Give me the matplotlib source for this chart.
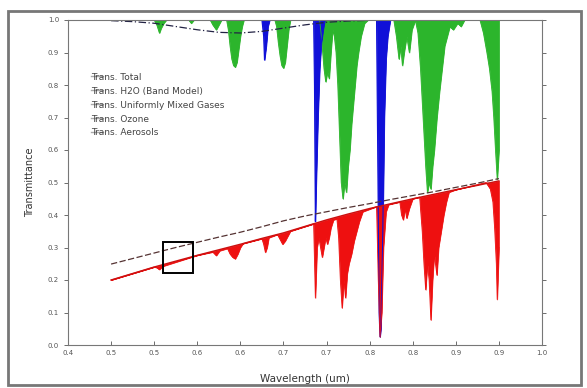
import numpy as np
import matplotlib
matplotlib.use('Agg')
import matplotlib.pyplot as plt
from matplotlib.lines import Line2D
from matplotlib.patches import Rectangle

# smooth curves (coarse wavelength grid, um)
wl_smooth = [0.45, 0.475, 0.50, 0.525, 0.55, 0.575, 0.60, 0.625, 0.65, 0.675,
             0.70, 0.725, 0.75, 0.775, 0.80, 0.825, 0.85, 0.875, 0.90]
ozone = [0.998, 0.995, 0.99, 0.98, 0.97, 0.962, 0.96, 0.965, 0.975, 0.985,
         0.993, 0.997, 0.999, 1.0, 1.0, 1.0, 1.0, 1.0, 1.0]
aerosol = [0.249, 0.266, 0.283, 0.300, 0.316, 0.332, 0.347, 0.364, 0.382, 0.397,
           0.410, 0.423, 0.435, 0.448, 0.460, 0.472, 0.485, 0.498, 0.512]
total_clear = [0.200, 0.220, 0.240, 0.258, 0.276, 0.293, 0.310, 0.328, 0.345, 0.365,
               0.385, 0.403, 0.420, 0.435, 0.450, 0.464, 0.478, 0.491, 0.505]

# H2O band model
wl_h2o = [0.45, 0.500, 0.503, 0.506, 0.508, 0.511, 0.514, 0.540, 0.543, 0.546,
          0.565, 0.568, 0.572, 0.575, 0.578, 0.584, 0.586, 0.588, 0.590, 0.592,
          0.594, 0.596, 0.598, 0.600, 0.602, 0.604, 0.640, 0.642, 0.644, 0.646,
          0.648, 0.650, 0.652, 0.654, 0.656, 0.658, 0.692, 0.694, 0.697, 0.699,
          0.701, 0.703, 0.705, 0.707, 0.709, 0.711, 0.713, 0.715, 0.717, 0.719,
          0.721, 0.723, 0.725, 0.727, 0.729, 0.731, 0.733, 0.735, 0.737, 0.740,
          0.744, 0.748, 0.778, 0.781, 0.784, 0.786, 0.788, 0.790, 0.793, 0.796,
          0.799, 0.803, 0.806, 0.809, 0.812, 0.815, 0.817, 0.819, 0.821, 0.823,
          0.825, 0.828, 0.831, 0.834, 0.837, 0.840, 0.843, 0.847, 0.852, 0.856,
          0.860, 0.878, 0.882, 0.886, 0.889, 0.892, 0.894, 0.896, 0.898, 0.900]
h2o = [1.0, 1.0, 0.985, 0.96, 0.975, 0.99, 1.0, 1.0, 0.99, 1.0,
       1.0, 0.985, 0.97, 0.985, 1.0, 1.0, 0.97, 0.92, 0.88, 0.86,
       0.855, 0.87, 0.91, 0.95, 0.98, 1.0, 1.0, 0.98, 0.93, 0.89,
       0.86, 0.852, 0.87, 0.92, 0.97, 1.0, 1.0, 0.95, 0.85, 0.81,
       0.84, 0.82, 0.90, 0.97, 0.95, 0.90, 0.80, 0.65, 0.50, 0.45,
       0.50, 0.47, 0.55, 0.60, 0.68, 0.74, 0.80, 0.86, 0.90, 0.95,
       0.99, 1.0, 1.0, 0.95, 0.88, 0.92, 0.86, 0.90, 0.95, 0.90,
       0.97, 1.0, 0.96, 0.85, 0.70, 0.55, 0.47, 0.50, 0.48, 0.55,
       0.60, 0.70, 0.78, 0.85, 0.92, 0.95, 0.98, 0.97, 0.99, 0.98,
       1.0, 1.0, 0.96, 0.90, 0.85, 0.78, 0.70, 0.60, 0.51, 0.60]

# uniformly mixed gases (O2 bands)
wl_mixed = [0.45, 0.625, 0.627, 0.628, 0.630, 0.632, 0.634, 0.685, 0.686, 0.687,
            0.688, 0.690, 0.692, 0.694, 0.696, 0.698, 0.758, 0.759, 0.761, 0.762,
            0.763, 0.765, 0.767, 0.769, 0.771, 0.774, 0.900]
mixed = [1.0, 1.0, 0.95, 0.877, 0.92, 0.98, 1.0, 1.0, 0.80, 0.38,
         0.50, 0.70, 0.85, 0.93, 0.97, 1.0, 1.0, 0.70, 0.10, 0.025,
         0.05, 0.30, 0.70, 0.88, 0.95, 1.0, 1.0]

# total transmittance
wl_total = [0.45, 0.50, 0.503, 0.506, 0.509, 0.512, 0.55, 0.568, 0.572, 0.576,
            0.585, 0.588, 0.591, 0.594, 0.597, 0.600, 0.603, 0.625, 0.627, 0.629,
            0.631, 0.633, 0.643, 0.646, 0.649, 0.652, 0.655, 0.658, 0.685, 0.687,
            0.689, 0.691, 0.693, 0.695, 0.697, 0.699, 0.701, 0.703, 0.705, 0.708,
            0.712, 0.714, 0.716, 0.718, 0.720, 0.722, 0.724, 0.726, 0.729, 0.732,
            0.735, 0.738, 0.742, 0.758, 0.760, 0.762, 0.764, 0.766, 0.769, 0.772,
            0.785, 0.787, 0.789, 0.791, 0.793, 0.796, 0.800, 0.808, 0.811, 0.813,
            0.815, 0.817, 0.819, 0.821, 0.823, 0.825, 0.828, 0.830, 0.833, 0.836,
            0.839, 0.842, 0.850, 0.885, 0.890, 0.893, 0.895, 0.897, 0.898, 0.899,
            0.900]
total = [0.200, 0.240, 0.238, 0.232, 0.240, 0.244, 0.276, 0.286, 0.275, 0.290,
         0.297, 0.280, 0.270, 0.265, 0.280, 0.300, 0.312, 0.327, 0.310, 0.285,
         0.300, 0.330, 0.340, 0.325, 0.310, 0.320, 0.335, 0.350, 0.373, 0.145,
         0.300, 0.330, 0.300, 0.270, 0.300, 0.330, 0.310, 0.330, 0.360, 0.385,
         0.388, 0.330, 0.200, 0.114, 0.200, 0.145, 0.220, 0.250, 0.280, 0.320,
         0.350, 0.380, 0.410, 0.426, 0.200, 0.025, 0.100, 0.300, 0.410, 0.432,
         0.440, 0.400, 0.385, 0.420, 0.390, 0.420, 0.450, 0.455, 0.350, 0.250,
         0.170, 0.250, 0.200, 0.077, 0.200, 0.280, 0.215, 0.300, 0.350, 0.400,
         0.440, 0.470, 0.478, 0.500, 0.480, 0.440, 0.360, 0.250, 0.140, 0.220,
         0.300]

x_ticks = [0.40, 0.45, 0.50, 0.55, 0.60, 0.65, 0.70, 0.75, 0.80, 0.85, 0.90, 0.95]
x_ticklabels = ['0.4', '0.5', '0.5', '0.6', '0.6', '0.7', '0.7', '0.8', '0.8', '0.9', '0.9', '1.0']
y_ticks = [0.0, 0.1, 0.2, 0.3, 0.4, 0.5, 0.6, 0.7, 0.8, 0.9, 1.0]

legend_labels = ['Trans. Total', 'Trans. H2O (Band Model)', 'Trans. Uniformly Mixed Gases',
                 'Trans. Ozone', 'Trans. Aerosols']

green = '#2cb52c'
blue = '#1010d8'
red = '#ee1010'

fig = plt.figure(figsize=(5.87, 3.88), dpi=100)
ax = fig.add_axes([68 / 587, 43 / 388, 474 / 587, 325 / 388])

# H2O and mixed gas absorption, filled down from 1.0
ax.fill_between(wl_h2o, h2o, 1.0, color=green, lw=0.6)
ax.plot(wl_h2o, h2o, color=green, lw=0.6)
ax.fill_between(wl_mixed, mixed, 1.0, color=blue, lw=0.6)
ax.plot(wl_mixed, mixed, color=blue, lw=0.8)

ax.plot(wl_smooth, ozone, color='#222244', lw=0.9, ls=(0, (6, 2, 1, 2)))

# total: dips filled up to the clear-sky envelope
upper = np.interp(wl_total, wl_smooth, total_clear)
ax.fill_between(wl_total, total, np.maximum(upper, total), color=red, lw=0.5)
ax.plot(wl_total, total, color=red, lw=0.6)
ax.plot(wl_smooth, total_clear, color='#cc1010', lw=1.0)
ax.plot(wl_smooth, aerosol, color='#553333', lw=0.9, ls=(0, (5, 2)))

# highlighted box
ax.add_patch(Rectangle((0.51, 0.222), 0.035, 0.095, fill=False, ec='black', lw=1.4, zorder=5))

ax.set_xlim(0.40, 0.95)
ax.set_ylim(0.0, 1.0)
ax.set_xticks(x_ticks)
ax.set_xticklabels(x_ticklabels)
ax.set_yticks(y_ticks)
ax.set_yticklabels(['%.1f' % v for v in y_ticks])
ax.tick_params(axis='both', labelsize=5, colors='#555555', length=3, width=0.6)
ax.tick_params(axis='y', direction='out', right=True)
ax.tick_params(axis='x', direction='in')
for s in ax.spines.values():
    s.set_color('#777777')
    s.set_linewidth(0.8)

ax.set_xlabel('Wavelength (um)', fontsize=7.5, color='#333333', labelpad=13)
ax.set_ylabel('Transmittance', fontsize=7, color='#333333', labelpad=9)

handles = [Line2D([], [], color='#aaaaaa', lw=1.0) for _ in legend_labels]
leg = ax.legend(handles, legend_labels, loc='upper left', bbox_to_anchor=(0.04, 0.852),
                frameon=False, fontsize=6.5, handlelength=1.3, handletextpad=-1.3,
                labelspacing=0.55, borderpad=0)
for t in leg.get_texts():
    t.set_color('#444444')

# outer frame
fig.patches.append(Rectangle((8 / 587, 3 / 388), 573 / 587, 374 / 388, transform=fig.transFigure,
                             fill=False, ec='#777777', lw=2))

fig.savefig('out.png', dpi=100)
